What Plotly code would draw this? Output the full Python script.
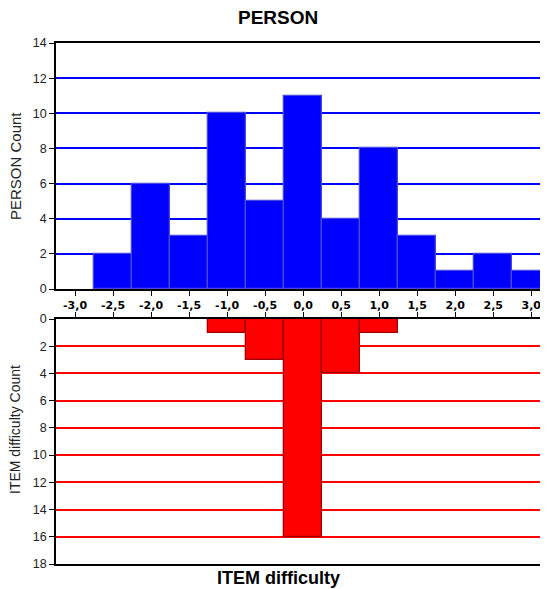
import plotly.graph_objects as go

# Data
person_bins = [-2.5, -2.0, -1.5, -1.0, -0.5, 0.0, 0.5, 1.0, 1.5, 2.0, 2.5, 3.0]
person_counts = [2, 6, 3, 10, 5, 11, 4, 8, 3, 1, 2, 1]
item_bins = [-1.0, -0.5, 0.0, 0.5, 1.0]
item_counts = [1, 3, 16, 4, 1]
tick_vals = [-3.0, -2.5, -2.0, -1.5, -1.0, -0.5, 0.0, 0.5, 1.0, 1.5, 2.0, 2.5, 3.0]
tick_text = ["-3,0", "-2,5", "-2,0", "-1,5", "-1,0", "-0,5", "0,0", "0,5", "1,0", "1,5", "2,0", "2,5", "3,0"]

# page has an 8px body margin; figure occupies page pixels 8..548 x 8..589
OFF = 8
W, H = 540, 581
L = 48
PW = W - L

def px(x):
    return (x - OFF - L) / PW

def py(y):
    return 1 - (y - OFF) / H

fig = go.Figure()
fig.add_trace(go.Bar(x=person_bins, y=person_counts, width=0.5,
                     marker=dict(color="#0000ff", line=dict(color="#4646e0", width=1.3)),
                     xaxis="x", yaxis="y", showlegend=False))
fig.add_trace(go.Bar(x=item_bins, y=item_counts, width=0.5,
                     marker=dict(color="#ff0000", line=dict(color="#a00000", width=1.3)),
                     xaxis="x2", yaxis="y2", showlegend=False))

tickfont_y = dict(family="Liberation Sans", size=12.5, color="#222222")

fig.update_layout(
    width=W, height=H,
    margin=dict(l=L, r=0, t=0, b=0, autoexpand=False),
    paper_bgcolor="white", plot_bgcolor="white",
    bargap=0,
    xaxis=dict(domain=[0, 1], range=[-3.25, 3.22], anchor="y", automargin=False,
               tickvals=tick_vals, ticktext=tick_text,
               tickfont=dict(family="DejaVu Sans", size=11, color="#000000", weight="bold"),
               ticks="outside", ticklen=5, tickcolor="#000000",
               showline=True, linecolor="#000000", linewidth=1.5, mirror=True,
               showgrid=False, zeroline=False),
    yaxis=dict(domain=[py(289), py(43)], range=[0, 14], dtick=2, anchor="x", automargin=False,
               tickfont=tickfont_y, ticks="outside", ticklen=5, tickcolor="#000000",
               showline=True, linecolor="#000000", linewidth=1.5,
               showgrid=True, gridcolor="#0000ff", gridwidth=1.5, zeroline=False),
    xaxis2=dict(domain=[0, 1], range=[-3.25, 3.22], anchor="y2", side="top", automargin=False,
                tickvals=tick_vals, showticklabels=False,
                ticks="outside", ticklen=5, tickcolor="#000000",
                showline=True, linecolor="#000000", linewidth=1.5, mirror=True,
                showgrid=False, zeroline=False),
    yaxis2=dict(domain=[py(564), py(319)], range=[18, 0], dtick=2, anchor="x2", automargin=False,
                tickfont=tickfont_y, ticks="outside", ticklen=5, tickcolor="#000000",
                showline=True, linecolor="#000000", linewidth=1.5,
                showgrid=True, gridcolor="#ff0000", gridwidth=1.5, zeroline=False),
    annotations=[
        dict(text="<b>PERSON</b>", x=px(278), y=py(18), xref="paper", yref="paper",
             showarrow=False, xanchor="center", yanchor="middle",
             font=dict(family="Liberation Sans", size=19, color="#000000")),
        dict(text="<b>ITEM difficulty</b>", x=px(278), y=py(578), xref="paper", yref="paper",
             showarrow=False, xanchor="center", yanchor="middle",
             font=dict(family="Liberation Sans", size=18, color="#000000")),
        dict(text="PERSON Count", x=px(15), y=py(166), xref="paper", yref="paper",
             showarrow=False, textangle=-90, xanchor="center", yanchor="middle",
             font=dict(family="Liberation Sans", size=15, color="#222222")),
        dict(text="ITEM difficulty Count", x=px(15), y=py(430), xref="paper", yref="paper",
             showarrow=False, textangle=-90, xanchor="center", yanchor="middle",
             font=dict(family="Liberation Sans", size=14, color="#222222")),
    ],
)

fig.write_html("out.html")
